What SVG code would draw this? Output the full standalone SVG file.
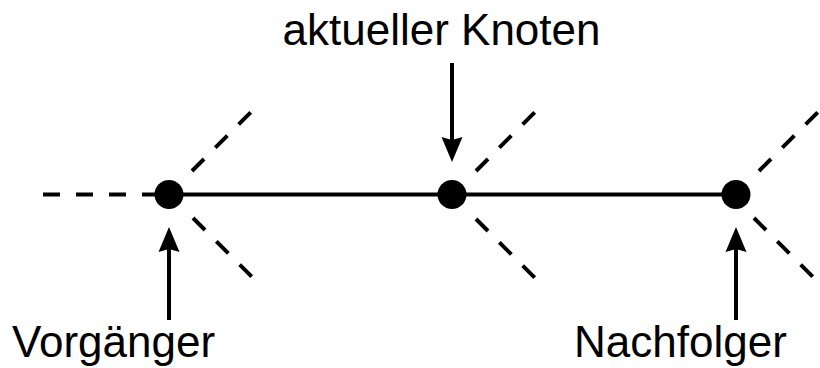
<svg xmlns="http://www.w3.org/2000/svg" width="820" height="368" viewBox="0 0 820 368">
<style>
.solid{stroke:#000;stroke-width:4;fill:none}
.dash{stroke:#000;stroke-width:4;fill:none;stroke-dasharray:17 16}
.node{fill:#000}
.label{font-family:"Liberation Sans",Arial,sans-serif;font-size:44px;fill:#000}
</style>
<defs>
<polygon id="head" points="0,0 10.5,25 0,22 -10.5,25" fill="#000"/>
</defs>
<rect width="820" height="368" fill="#fff"/>
<g id="connectors">
<line class="dash" x1="43" y1="194.5" x2="160" y2="194.5"/>
<line class="solid" x1="169" y1="194.5" x2="736" y2="194.5"/>
<line class="dash" x1="192" y1="171" x2="252" y2="111"/>
<line class="dash" x1="193" y1="218" x2="253" y2="278"/>
<line class="dash" x1="476" y1="171" x2="536" y2="111"/>
<line class="dash" x1="476" y1="219" x2="536" y2="279"/>
<line class="dash" x1="759" y1="171" x2="819" y2="111"/>
<line class="dash" x1="754" y1="218" x2="814" y2="278"/>
<line class="solid" x1="169" y1="320" x2="169" y2="245"/>
<use href="#head" transform="translate(169,227)"/>
<line class="solid" x1="452" y1="63" x2="452" y2="144"/>
<use href="#head" transform="translate(452,162) rotate(180)"/>
<line class="solid" x1="736" y1="320" x2="736" y2="245"/>
<use href="#head" transform="translate(736,227)"/>
</g>
<g id="node-vorgaenger">
<circle class="node" cx="169" cy="194.5" r="14.5"/>
<text class="label" x="12" y="357">Vorgänger</text>
</g>
<g id="node-aktuell">
<circle class="node" cx="452" cy="194.5" r="14.5"/>
<text class="label" x="441.5" y="45" text-anchor="middle">aktueller Knoten</text>
</g>
<g id="node-nachfolger">
<circle class="node" cx="736" cy="194.5" r="14.5"/>
<text class="label" x="574" y="357">Nachfolger</text>
</g>
</svg>
